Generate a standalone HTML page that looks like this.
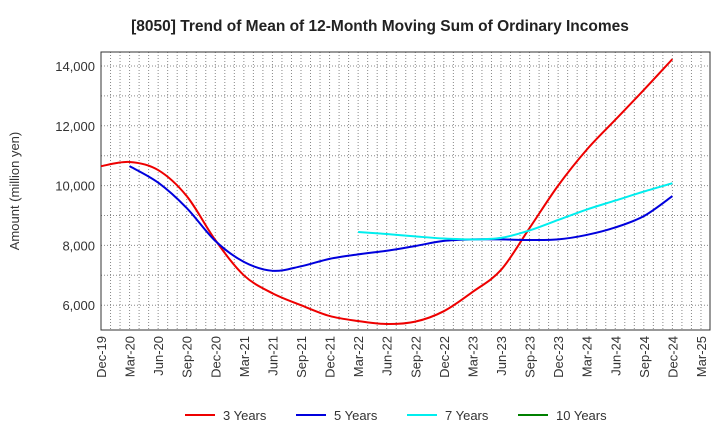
<!DOCTYPE html>
<html><head><meta charset="utf-8"><style>
body{margin:0;background:#fff;font-family:"Liberation Sans",sans-serif}
</style></head><body>
<svg id="c" width="720" height="440" xmlns="http://www.w3.org/2000/svg"></svg>
<script>
const labels=["Dec-19","Mar-20","Jun-20","Sep-20","Dec-20","Mar-21","Jun-21","Sep-21","Dec-21","Mar-22","Jun-22","Sep-22","Dec-22","Mar-23","Jun-23","Sep-23","Dec-23","Mar-24","Jun-24","Sep-24","Dec-24","Mar-25"];
const yTicks=[6000,8000,10000,12000,14000];
const s3=[10650,10790,10520,9650,8180,7000,6400,6000,5640,5470,5370,5450,5800,6440,7180,8580,10000,11200,12200,13200,14230];
const s5=[null,10650,10100,9250,8150,7450,7150,7300,7550,7700,7820,7980,8150,8200,8200,8180,8200,8350,8600,8980,9650];
const s7=[null,null,null,null,null,null,null,null,null,8450,8380,8300,8230,8200,8250,8500,8850,9200,9500,9800,10080];
const s10=[];
const L=101,R=710,T=52,B=330;
const X=i=>L+i*28.57;
const Y=v=>66+(14000-v)/2000*59.8;
const svg=document.getElementById('c');const NS="http://www.w3.org/2000/svg";
function el(t,a,p){const e=document.createElementNS(NS,t);for(const k in a)e.setAttribute(k,a[k]);(p||svg).appendChild(e);return e;}
let e=el('rect',{x:L,y:T,width:R-L,height:B-T,fill:'#fff'});


for(let m=1;m<65;m++){const x=L+m*28.57/3;if(x>=R)break;e=el('line',{x1:x,x2:x,y1:T,y2:B,stroke:'#888','stroke-dasharray':'1,2','stroke-width':1});

}
for(let v=6000;v<=14000;v+=1000){const y=Y(v);e=el('line',{x1:L,x2:R,y1:y,y2:y,stroke:'#888','stroke-dasharray':'1,2'});

}
e=el('rect',{x:L,y:T,width:R-L,height:B-T,fill:'none',stroke:'#333'});


yTicks.forEach(v=>{e=el('text',{x:L-6,y:Y(v)+5,'text-anchor':'end','font-size':13,fill:'#333'});e.textContent=v.toLocaleString('en-US');

});
labels.forEach((l,i)=>{const x=X(i);e=el('text',{transform:`translate(${x+5},${B+6}) rotate(-90)`,'text-anchor':'end','font-size':13,fill:'#333'});e.textContent=l;

});
e=el('text',{transform:'translate(19,191) rotate(-90)','text-anchor':'middle','font-size':13,fill:'#333'});e.textContent='Amount (million yen)';


e=el('text',{x:380,y:31,'text-anchor':'middle','font-size':15.5,'font-weight':'bold',fill:'#222'});e.textContent='[8050]  Trend of Mean of 12-Month Moving Sum of Ordinary Incomes';


function path(arr,col,name){const p=[];arr.forEach((v,i)=>{if(v!=null)p.push([X(i),Y(v)]);});if(p.length<2)return;
let d=`M${p[0][0]},${p[0][1]}`;for(let i=0;i<p.length-1;i++){const p0=p[i-1]||p[i],p1=p[i],p2=p[i+1],p3=p[i+2]||p2;
d+=` C${p1[0]+(p2[0]-p0[0])/6},${p1[1]+(p2[1]-p0[1])/6} ${p2[0]-(p3[0]-p1[0])/6},${p2[1]-(p3[1]-p1[1])/6} ${p2[0]},${p2[1]}`;}
const e=el('path',{d,fill:'none',stroke:col,'stroke-width':2});

}
path(s3,'#ee0000','line-3-years');path(s5,'#0000dd','line-5-years');path(s7,'#00eeee','line-7-years');path(s10,'#008000','line-10-years');
[['3 Years','#ee0000',185],['5 Years','#0000dd',296],['7 Years','#00eeee',407],['10 Years','#008000',518]].forEach(([t,c,x])=>{
const g=el('g',{});


el('line',{x1:x,x2:x+30,y1:415,y2:415,stroke:c,'stroke-width':2},g);
const tx=el('text',{x:x+38,y:420,'font-size':13,fill:'#333'},g);tx.textContent=t;});
</script>
</body></html>
